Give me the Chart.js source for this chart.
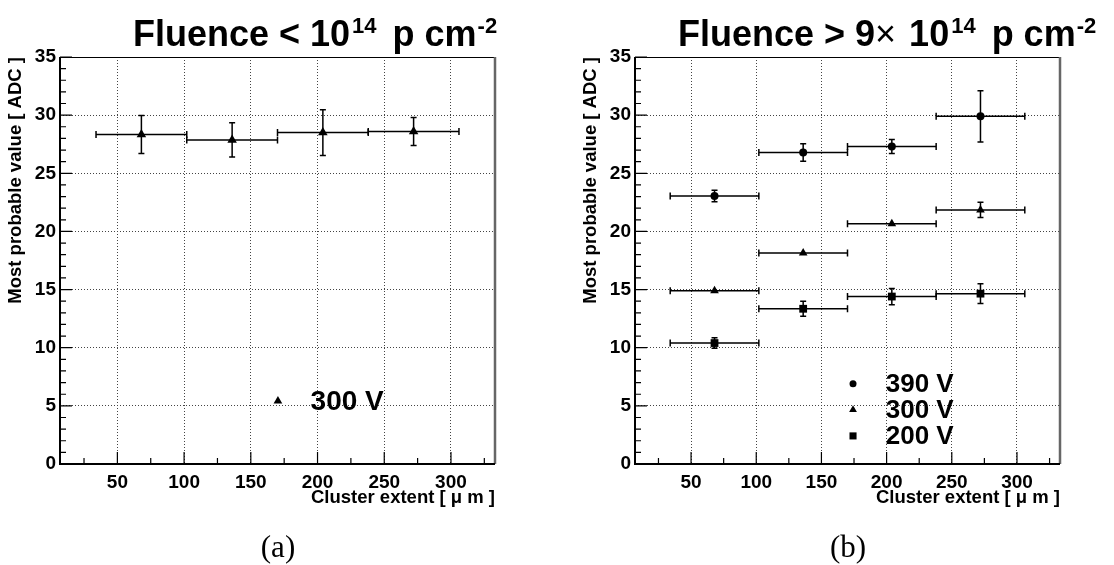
<!DOCTYPE html>
<html>
<head>
<meta charset="utf-8">
<script src="https://cdn.jsdelivr.net/npm/chart.js@4.4.0/dist/chart.umd.min.js"></script>
<style>
html, body { margin: 0; padding: 0; background: #fff; overflow: hidden; }
#wrap { position: relative; width: 1114px; height: 565px; }
canvas { position: absolute; top: 0; }
#chartA { left: 0; }
#chartB { left: 575px; }
.cap { position: absolute; top: 529px; font-family: "Liberation Serif", serif; font-size: 31px; line-height: 36px; transform: translateX(-50%); color: #000; }
</style>
</head>
<body>
<div id="wrap">
<canvas id="chartA" width="575" height="565"></canvas>
<canvas id="chartB" width="539" height="565"></canvas>
<div class="cap" style="left:278px">(a)</div>
<div class="cap" style="left:848px">(b)</div>
</div>
<script>
// bins of cluster extent (um)
const binCenters = [68, 136, 204, 272];
const binHalfWidths = [34, 34, 34, 34];
const xTicks = [50, 100, 150, 200, 250, 300];
const yTicks = [0, 5, 10, 15, 20, 25, 30, 35];

// (a) fluence < 1e14
const low300V = [28.33, 27.87, 28.5, 28.6];
const low300VErr = [1.63, 1.47, 1.96, 1.2];

// (b) fluence > 9e14
const high390V = [23.05, 26.78, 27.3, 29.9];
const high390VErr = [0.5, 0.75, 0.6, 2.2];
const high300V = [14.9, 18.15, 20.65, 21.85];
const high300VErr = [0.1, 0.1, 0.1, 0.65];
const high200V = [10.4, 13.35, 14.4, 14.65];
const high200VErr = [0.45, 0.65, 0.7, 0.85];

const FONT = '"Liberation Sans", Arial, Helvetica, sans-serif';

function points(vals) {
	return binCenters.map((c, i) => ({ x: c, y: vals[i] }));
}

function makeSet(label, vals, errs, style, radius) {
	return {
		label: label,
		data: points(vals),
		xErr: binHalfWidths,
		yErr: errs,
		pointStyle: style,
		pointRadius: radius,
		pointHoverRadius: radius,
		backgroundColor: '#000',
		borderColor: '#000',
		borderWidth: 0,
		showLine: false
	};
}

function drawMarker(ctx, style, r, x, y) {
	ctx.beginPath();
	if (style === 'circle') {
		ctx.arc(x, y, r, 0, Math.PI * 2);
	} else if (style === 'rect') {
		const s = r * Math.SQRT1_2;
		ctx.rect(x - s, y - s, 2 * s, 2 * s);
	} else {
		ctx.moveTo(x, y - r);
		ctx.lineTo(x + r * 0.866, y + r * 0.5);
		ctx.lineTo(x - r * 0.866, y + r * 0.5);
		ctx.closePath();
	}
	ctx.fill();
}

// error bars go under the markers
const errorBars = {
	id: 'errorBars',
	beforeDatasetsDraw(chart) {
		const { ctx, scales: { x, y } } = chart;
		ctx.save();
		ctx.strokeStyle = '#000';
		ctx.lineWidth = 1.5;
		chart.data.datasets.forEach(ds => {
			ds.data.forEach((p, i) => {
				const xc = x.getPixelForValue(p.x);
				const xl = x.getPixelForValue(p.x - ds.xErr[i]);
				const xr = x.getPixelForValue(p.x + ds.xErr[i]);
				const yc = y.getPixelForValue(p.y);
				const yt = y.getPixelForValue(p.y + ds.yErr[i]);
				const yb = y.getPixelForValue(p.y - ds.yErr[i]);
				ctx.beginPath();
				ctx.moveTo(xl, yc); ctx.lineTo(xr, yc);
				ctx.moveTo(xl, yc - 3.5); ctx.lineTo(xl, yc + 3.5);
				ctx.moveTo(xr, yc - 3.5); ctx.lineTo(xr, yc + 3.5);
				if (yb - yt > 4) {
					ctx.moveTo(xc, yt); ctx.lineTo(xc, yb);
					ctx.moveTo(xc - 3, yt); ctx.lineTo(xc + 3, yt);
					ctx.moveTo(xc - 3, yb); ctx.lineTo(xc + 3, yb);
				}
				ctx.stroke();
			});
		});
		ctx.restore();
	}
};

// ROOT style frame with inside ticks
const frame = {
	id: 'frame',
	afterDraw(chart) {
		const { ctx, chartArea: a, scales: { x, y } } = chart;
		ctx.save();
		ctx.strokeStyle = '#000';
		ctx.lineWidth = 1.2;
		ctx.beginPath();
		for (let v = 25; v < x.max; v += 25) {
			if (v < x.min) continue;
			const px = x.getPixelForValue(v);
			const len = v % 50 === 0 ? 12 : 6;
			ctx.moveTo(px, a.bottom); ctx.lineTo(px, a.bottom - len);
		}
		for (let v = 0; v <= y.max; v += 1) {
			const py = y.getPixelForValue(v);
			const len = v % 5 === 0 ? 12 : 6;
			ctx.moveTo(a.left, py); ctx.lineTo(a.left + len, py);
		}
		ctx.stroke();
		// top
		ctx.lineWidth = 1;
		ctx.beginPath();
		ctx.moveTo(a.left, a.top + 0.5); ctx.lineTo(a.right, a.top + 0.5);
		ctx.stroke();
		// right
		ctx.strokeStyle = '#666';
		ctx.lineWidth = 2.5;
		ctx.beginPath();
		ctx.moveTo(a.right, a.top); ctx.lineTo(a.right, a.bottom);
		ctx.stroke();
		// left + bottom
		ctx.strokeStyle = '#000';
		ctx.lineWidth = 2;
		ctx.beginPath();
		ctx.moveTo(a.left, a.top); ctx.lineTo(a.left, a.bottom); ctx.lineTo(a.right, a.bottom);
		ctx.stroke();
		ctx.restore();
	}
};

// title with superscripts, and the in-frame legend
function overlay(titleParts, titleX, legend) {
	return {
		id: 'overlay',
		afterDraw(chart) {
			const { ctx, chartArea: a } = chart;
			ctx.save();
			ctx.fillStyle = '#000';
			ctx.textBaseline = 'alphabetic';
			let cx = titleX;
			titleParts.forEach(p => {
				ctx.font = (p.light ? '' : 'bold ') + (p.sup ? 22 : 36) + 'px ' + FONT;
				ctx.fillText(p.t, cx, p.sup ? 33 : 46);
				cx += ctx.measureText(p.t).width + (p.gap || 0);
			});
			ctx.font = 'bold ' + legend.size + 'px ' + FONT;
			ctx.textBaseline = 'middle';
			legend.rows.forEach(r => {
				const my = a.top + r.fy * (a.bottom - a.top);
				drawMarker(ctx, r.style, r.radius, a.left + legend.fxMarker * (a.right - a.left), my);
				ctx.fillText(r.text, a.left + legend.fxText * (a.right - a.left), my + 1);
			});
			ctx.restore();
		}
	};
}

function makeChart(id, datasets, padRight, plugins) {
	return new Chart(document.getElementById(id), {
		type: 'scatter',
		data: { datasets: datasets },
		options: {
			responsive: false,
			animation: false,
			layout: { padding: { left: 0, right: padRight, top: 57, bottom: 41 } },
			plugins: { legend: { display: false }, tooltip: { enabled: false } },
			scales: {
				x: {
					type: 'linear',
					min: 7,
					max: 333,
					afterBuildTicks: s => { s.ticks = xTicks.map(v => ({ value: v })); },
					afterFit: s => { s.height = 60; },
					grid: { color: '#444', lineWidth: 1, drawTicks: false },
					border: { display: false, dash: [1, 2] },
					ticks: { color: '#000', padding: 7, maxRotation: 0, font: { family: FONT, size: 19, weight: 'bold' } },
					title: {
						display: true,
						text: 'Cluster extent [ \u03bc m ]',
						align: 'end',
						color: '#000',
						padding: { top: 0, bottom: 15 },
						font: { family: FONT, size: 18.5, weight: 'bold' }
					}
				},
				y: {
					type: 'linear',
					min: 0,
					max: 35,
					afterBuildTicks: s => { s.ticks = yTicks.map(v => ({ value: v })); },
					afterFit: s => { s.width = 60; },
					grid: { color: '#444', lineWidth: 1, drawTicks: false },
					border: { display: false, dash: [1, 2] },
					ticks: { color: '#000', padding: 4, font: { family: FONT, size: 19, weight: 'bold' } },
					title: {
						display: true,
						text: 'Most probable value [ ADC ]',
						align: 'end',
						color: '#000',
						padding: { top: 5, bottom: 0 },
						font: { family: FONT, size: 18.5, weight: 'bold' }
					}
				}
			}
		},
		plugins: [errorBars, frame].concat(plugins)
	});
}

makeChart('chartA', [
	makeSet('300 V', low300V, low300VErr, 'triangle', 5.5)
], 80, [overlay(
	[{ t: 'Fluence < 10', gap: 2 }, { t: '14', sup: true, gap: 6 }, { t: ' p cm', gap: 1 }, { t: '-2', sup: true }],
	133,
	{ size: 28, fxMarker: 0.501, fxText: 0.576, rows: [{ text: '300 V', style: 'triangle', radius: 5, fy: 0.845 }] }
)]);

makeChart('chartB', [
	makeSet('390 V', high390V, high390VErr, 'circle', 4),
	makeSet('300 V', high300V, high300VErr, 'triangle', 5),
	makeSet('200 V', high200V, high200VErr, 'rect', 5.5)
], 54, [overlay(
	[{ t: 'Fluence > 9' }, { t: '\u00d7', light: true, gap: 3 }, { t: ' 10', gap: 2 }, { t: '14', sup: true, gap: 6 }, { t: ' p cm', gap: 1 }, { t: '-2', sup: true }],
	103,
	{ size: 26, fxMarker: 0.513, fxText: 0.59, rows: [
		{ text: '390 V', style: 'circle', radius: 3.5, fy: 0.803 },
		{ text: '300 V', style: 'triangle', radius: 4.5, fy: 0.867 },
		{ text: '200 V', style: 'rect', radius: 5, fy: 0.931 }
	] }
)]);
</script>
</body>
</html>
